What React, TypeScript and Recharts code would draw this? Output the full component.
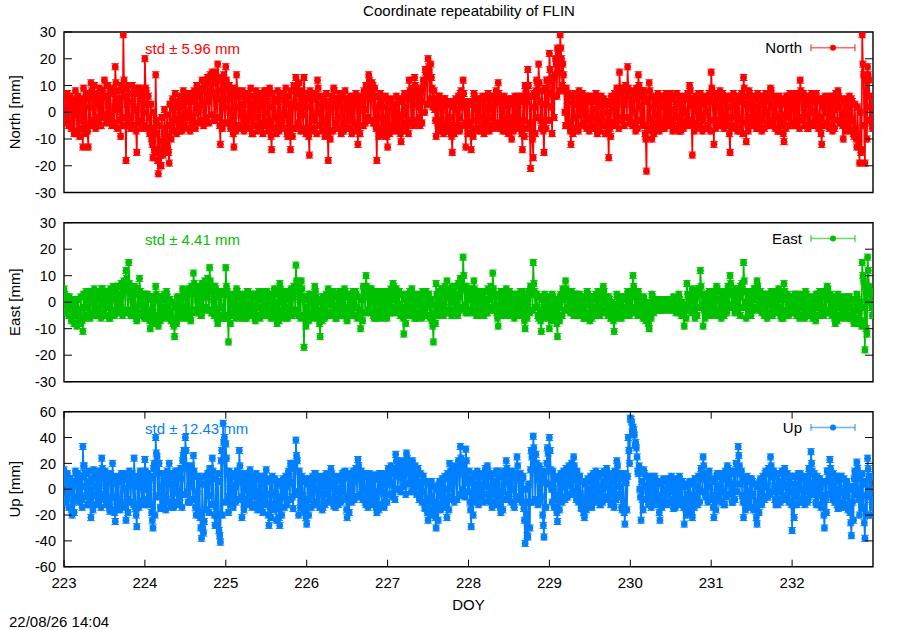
import React from 'react';
import { LineChart, Line, XAxis, YAxis, ReferenceArea } from 'recharts';

const FONT = '"Liberation Sans", Arial, Helvetica, sans-serif';

const START_DOY = 223;
const END_DOY = 233;
const SAMPLES_PER_DAY = 120; // four interleaved sample sets of 30 per day

const xTicks = [223, 224, 225, 226, 227, 228, 229, 230, 231, 232];
const neTicks = [-30, -20, -10, 0, 10, 20, 30];
const upTicks = [-60, -40, -20, 0, 20, 40, 60];

const title = 'Coordinate repeatability of FLIN';
const dateStamp = '22/08/26 14:04';

// ---------- North [mm] ----------
const northA = [
  6, -2, 4, -6, 1, -8, 3, -13, 5, -13, 11, -3, 6, -5, 8, 12, -1, 7, -4, 17, 4, -9, 29, -18, 10, -6, 7, -15, 9, -4,
  20, 3, -6, -17, 14, -23, -20, -12, -9, -19, -4, 2, -7, 5, -3, 6, -2, 4, -5, 7, 1, 8, -4, 12, 6, 15, -3, 18, -12, 10,
  17, 5, -3, -13, 14, 2, -6, 7, -4, 3, -8, 5, -2, 6, -5, 8, -3, -14, 4, -6, 7, -2, 5, -9, -14, 3, 13, -4, 6, 13,
  2, -16, 6, -3, 12, -5, 4, -8, -18, 3, 9, -4, 5, -7, 2, -6, 4, -3, 6, -12, 3, -5, 10, 14, 8, -4, -18, 6, -2, -9,
  -13, 4, -6, 3, -2, -11, 5, -4, 12, -3, 13, 6, -5, 9, 16, 20, 18, 4, -9, 6, -3, 5, -7, -2, -15, 4, -5, 7, 12, -13,
  3, -14, 7, -3, 5, -6, 2, -4, 6, -2, 4, 11, -5, 3, -7, 5, -10, 4, -3, 6, -14, 10, 16, -21, -17, 8, 18, -6, -15, 12,
  22, -8, 14, 24, 29, 18, -5, 7, -12, 3, -6, 8, 2, -5, 6, -3, 4, -6, 5, -2, 3, -8, -17, 6, -4, 9, 15, -3, 5, 17,
  -4, 6, -7, 14, -3, 8, -22, 11, -10, 5, -4, 6, -6, 3, -2, 7, -5, 4, -7, 2, 5, -3, 10, -16, 3, -5, 7, -2, 4, -6,
  15, -12, 5, -4, 7, -3, 2, -15, 6, -5, 4, -7, 13, -11, 8, -3, 5, -6, 3, -2, 6, -5, 9, -4, 5, -7, 3, -11, 6, -2,
  4, -5, 7, 12, -3, 6, -6, 4, -4, 7, -2, -12, 5, -5, 3, -7, 6, 8, -4, -10, 3, -6, 5, -9, -13, -19, 29, -19, 17, 2,
];
const northB = [
  2, -4, 3, -1, 5, -3, 0, 4, -6, 2, 7, -2, 3, 5, -1, 6, 2, -3, 8, 1, 5, -2, 6, 3, -5, 4, 1, -3, 5, 0,
  8, -2, -10, -14, -8, -16, -11, -6, -13, -5, 1, -3, 3, -4, 2, -1, 4, -3, 5, 0, 6, 3, 9, 4, 11, 7, 13, 5, 8, 2,
  9, 0, 6, -5, 8, -1, 3, -3, 5, -2, 1, 4, -4, 3, 0, 5, -5, 2, -2, 4, -3, 6, -1, 3, -6, 8, 2, 7, -1, 4,
  -6, 5, -2, 7, 0, 3, -4, 2, -7, 5, 3, -2, 4, -3, 5, -1, 2, -4, 3, -5, 4, 1, 7, 5, 10, 2, -6, 3, -4, 2,
  -5, 1, -3, 0, -6, -1, 2, -5, 6, 3, 8, 2, 4, 11, 13, 15, 9, 1, -4, 2, -6, 3, -3, -8, -5, 1, -2, 4, 2, -5,
  -4, -7, 2, 0, -2, 3, -3, 1, 2, -5, 6, 5, -1, -3, 2, -4, -2, 0, 3, -6, -3, 4, 6, -8, 2, 11, 4, -4, 3, 7,
  12, 6, 18, 15, 20, 8, 2, -4, 4, -2, 3, -1, 5, 0, -3, 4, -2, 1, -4, 3, -5, 0, -6, 2, 4, -2, 7, 3, 9, 6,
  3, 0, 5, 2, 6, -8, 4, -3, 2, -1, 3, -4, 2, 0, 4, -3, 1, -2, 3, -4, 0, 5, 3, -4, 1, 4, -3, 3, 0, 5,
  4, -3, 2, 1, -2, 4, -5, -2, 3, 0, -3, 5, 3, -2, 2, 4, -1, 2, -3, 3, 0, 4, 2, -1, -2, 3, -4, -1, 2, 4,
  1, 3, -2, 5, 2, -1, 3, 0, 4, -3, -5, 2, 0, 3, -2, 1, 4, 2, 0, -4, -1, 2, -3, -6, -9, -15, 14, 8, 12, -4,
];
const northC = [
  5, 7, 6, 4, 8, 6, 5, 9, 7, 6, 8, 10, 7, 9, 8, 6, 10, 8, 9, 11, 8, 10, 12, 9, 7, 10, 8, 9, 6, 8,
  9, 6, 3, 0, -3, -5, -2, 1, -1, 3, 5, 7, 4, 6, 8, 5, 7, 6, 8, 10, 9, 12, 10, 13, 14, 11, 15, 13, 12, 14,
  12, 10, 8, 9, 7, 6, 8, 5, 7, 9, 6, 8, 7, 5, 8, 6, 9, 7, 5, 8, 6, 7, 9, 6, 8, 10, 9, 11, 8, 7,
  6, 8, 5, 7, 9, 6, 5, 7, 4, 6, 8, 5, 7, 6, 8, 5, 6, 4, 7, 5, 6, 8, 10, 12, 11, 9, 6, 7, 5, 6,
  4, 5, 3, 6, 4, 5, 7, 6, 8, 9, 10, 8, 9, 12, 15, 17, 13, 8, 5, 6, 4, 5, 3, 4, 2, 5, 6, 8, 7, 4,
  3, 4, 6, 5, 4, 6, 5, 7, 6, 5, 8, 7, 5, 6, 4, 5, 3, 6, 5, 4, 6, 8, 10, 6, 7, 12, 11, 8, 9, 12,
  16, 13, 20, 22, 24, 14, 9, 6, 5, 7, 6, 5, 7, 6, 4, 6, 5, 7, 4, 6, 5, 4, 3, 5, 7, 6, 9, 8, 10, 9,
  7, 8, 9, 10, 8, 7, 5, 8, 6, 5, 7, 6, 5, 7, 6, 5, 6, 7, 5, 6, 5, 7, 8, 5, 6, 7, 5, 6, 5, 7,
  9, 7, 6, 8, 7, 6, 5, 6, 7, 6, 5, 7, 9, 6, 7, 6, 5, 7, 6, 5, 7, 6, 8, 6, 5, 6, 5, 4, 6, 7,
  6, 7, 6, 8, 7, 6, 5, 7, 6, 5, 4, 5, 6, 5, 6, 5, 7, 6, 5, 4, 5, 6, 4, 3, 2, 0, 18, 12, 14, 6,
];
const northD = [
  -3, -5, -6, -8, -7, -9, -6, -8, -7, -5, -4, -6, -3, -5, -2, -4, -3, -5, -4, -6, -3, -5, -2, -4, -6, -5, -7, -4, -6, -5,
  -6, -8, -12, -15, -18, -20, -16, -14, -15, -10, -7, -8, -6, -7, -5, -6, -7, -5, -6, -4, -3, -5, -2, -4, -1, -3, -2, -5, -6, -4,
  -4, -6, -8, -7, -5, -6, -7, -5, -6, -8, -5, -7, -6, -8, -5, -7, -9, -6, -8, -7, -5, -6, -8, -7, -9, -6, -5, -7, -6, -8,
  -9, -7, -6, -8, -5, -7, -9, -6, -10, -7, -5, -6, -8, -7, -5, -6, -8, -7, -6, -8, -5, -4, -2, -3, -4, -6, -9, -7, -8, -9,
  -8, -6, -7, -5, -8, -7, -6, -8, -4, -5, -3, -2, -4, 0, 3, 5, 2, -3, -7, -6, -8, -5, -7, -9, -8, -6, -7, -5, -4, -8,
  -8, -9, -6, -7, -5, -8, -6, -7, -5, -6, -4, -6, -7, -5, -8, -6, -7, -5, -6, -8, -9, -6, -4, -10, -8, -2, -3, -7, -6, -3,
  2, -2, 6, 8, 10, 0, -5, -7, -8, -6, -7, -5, -4, -6, -7, -5, -6, -8, -7, -5, -8, -6, -9, -5, -4, -6, -3, -5, -2, -4,
  -5, -4, -6, -3, -5, -10, -6, -7, -8, -6, -7, -5, -6, -4, -5, -7, -6, -5, -7, -6, -4, -5, -3, -7, -6, -5, -7, -6, -5, -7,
  -3, -6, -5, -4, -6, -5, -8, -6, -5, -7, -6, -8, -4, -7, -5, -4, -6, -5, -7, -6, -4, -5, -3, -6, -7, -5, -8, -6, -5, -4,
  -5, -4, -6, -3, -5, -6, -4, -5, -3, -6, -8, -5, -4, -6, -5, -6, -3, -4, -5, -7, -6, -7, -8, -10, -12, -14, -5, -10, -3, -6,
];

// ---------- East [mm] ----------
const eastA = [
  5, -3, 2, -6, 1, -4, -8, -11, 3, -2, 4, -5, 2, -3, 5, -1, 3, -6, 2, -4, 6, -2, 4, 12, 15, -3, 5, -7, 9, -1,
  -4, 3, -10, 2, 6, -9, 1, -5, 4, -3, -6, -13, 2, -4, 5, -2, 3, -7, 11, -3, 4, -5, 7, 2, 13, -4, 6, -8, 3, -6,
  13, -15, 2, -4, 5, -3, 1, -6, 4, -2, 3, -7, 2, -5, 4, -1, 3, -4, 5, -8, 7, -3, 4, -6, 3, 2, 14, -5, 8, -17,
  -2, 3, -5, 6, -3, -13, 2, -4, 5, -1, 4, -6, 2, -3, 5, -7, 3, -2, 4, -5, -10, 6, 10, -3, 5, -6, 2, -4, 4, -2,
  3, -4, 7, -2, 4, -5, -12, 2, -3, 5, -6, 1, -4, 4, -2, 3, -5, -15, 7, -3, 5, -2, 8, -4, 6, 3, -5, 9, 17, -4,
  5, -3, 8, -5, 2, -2, 4, -4, 3, 11, -1, -9, 4, -3, 5, -2, 3, -6, 2, -4, 4, -10, -2, 6, 15, 3, -6, -11, 2, -5,
  -10, 3, -4, -13, 2, 5, 8, -2, 4, -5, 3, -3, 1, -6, 4, -7, 2, -2, 4, -4, 6, -3, 2, -6, -11, 3, -4, 2, -5, 4,
  -2, 10, -3, 4, -5, 2, -4, -10, 3, -2, 1, -3, 0, -1, 1, -2, 2, -4, 3, -5, -9, 7, -3, 5, -6, 4, 12, -9, 3, -2,
  4, -3, 6, -5, 2, -4, 3, 10, -2, 5, -3, 6, 15, -6, 4, -2, 5, 8, -3, 2, -5, 3, -4, 4, -2, 5, -6, 7, -3, 1,
  -2, 3, -4, 2, -5, 4, -3, 1, -6, 3, -2, 4, -4, 6, -3, 2, -8, 3, -5, 1, -4, 2, -6, -8, 3, -3, 15, -18, 17, 3,
];
const eastB = [
  0, -2, -4, -1, -5, -3, -6, -2, 1, -4, 0, 2, -3, 1, 2, -2, 0, -3, 4, 1, -1, 3, 6, 5, 2, 1, -2, 3, 2, -3,
  1, -5, -3, -6, 2, -4, -2, 1, -1, -4, -8, -2, -1, 1, -3, 2, -4, 3, 4, 1, -2, 2, 3, 6, 4, 1, -3, 2, -2, 3,
  4, -5, -1, 1, -2, 2, -3, 0, -1, 2, -4, -1, -2, 1, -3, 2, -1, 2, -3, 0, 2, -1, -2, 1, -3, 5, 4, 1, 2, -6,
  -4, 1, -1, 2, -6, -3, -1, 1, 0, 2, -3, -1, 0, 1, -3, -2, 1, 0, -2, -3, -4, 2, 3, 0, 1, -3, 0, -1, 1, -3,
  0, 2, 1, 3, -1, -2, -4, -1, 1, -2, -1, 0, -2, 1, 0, -1, -7, -4, 2, 1, -1, 3, 2, 0, 3, -1, 2, 5, 6, 2,
  1, 2, 0, -1, 3, 0, -2, 1, 5, 2, -4, -2, 0, 1, -1, 2, -1, -2, 0, 1, -4, -1, 3, 5, 4, -2, -4, -3, 0, -2,
  -3, -1, -6, -2, 1, 3, 2, 0, 1, -1, -2, 0, -3, -1, 0, -2, -3, 1, -1, 0, 2, -1, -3, -4, -2, -1, 0, -2, 1, 0,
  2, 4, 0, -1, -2, -3, -5, -2, 0, -1, -1, 0, -1, 0, -1, 0, -1, 0, -2, -3, -2, 2, 0, 1, -2, 5, 3, -3, 0, 1,
  0, 2, 1, -1, -2, 0, 5, 3, 1, 0, 2, 7, 4, 0, -1, 1, 3, 2, -1, -2, 0, -1, 1, 0, 2, -2, 1, 2, -1, -2,
  0, -1, -2, -1, 0, -2, -1, -3, -1, 0, 1, -2, 2, 1, -1, -3, -1, -2, 0, -3, -1, -2, -4, -3, -1, -7, 8, -10, 6, -2,
];
const eastC = [
  3, 2, 1, 0, -1, 1, 2, 3, 4, 3, 4, 5, 3, 4, 5, 3, 4, 5, 6, 5, 6, 7, 8, 9, 7, 5, 6, 5, 4, 3,
  3, 2, 1, 2, 3, 1, 2, 3, 2, 1, 0, -1, 1, 2, 3, 4, 5, 6, 7, 5, 6, 7, 8, 9, 8, 6, 5, 4, 3, 4,
  6, 3, 2, 3, 4, 3, 2, 3, 4, 3, 2, 3, 4, 2, 3, 4, 3, 2, 3, 4, 5, 4, 3, 4, 5, 6, 8, 6, 5, 2,
  1, 3, 2, 4, 1, 0, 2, 3, 4, 3, 2, 3, 4, 3, 4, 2, 3, 4, 3, 2, 1, 4, 6, 5, 4, 3, 4, 3, 4, 3,
  4, 5, 6, 5, 4, 3, 1, 3, 4, 3, 2, 3, 2, 3, 4, 3, 1, -1, 3, 4, 5, 6, 5, 4, 5, 6, 7, 8, 10, 6,
  5, 4, 5, 3, 4, 3, 4, 5, 6, 5, 3, 2, 3, 4, 3, 4, 3, 2, 3, 4, 2, 1, 4, 6, 7, 3, 2, 1, 3, 2,
  0, 2, 1, 0, 3, 4, 5, 3, 4, 3, 2, 3, 2, 1, 3, 2, 1, 3, 2, 3, 4, 2, 1, 0, -1, 2, 1, 2, 1, 3,
  4, 6, 3, 2, 1, 0, -1, 0, 2, 1, 1, 0, 1, 0, 1, 0, 1, 0, 1, 0, -1, 3, 2, 3, 2, 5, 6, 2, 3, 4,
  4, 3, 5, 4, 3, 4, 6, 7, 4, 5, 4, 6, 8, 4, 3, 4, 5, 6, 4, 3, 2, 3, 4, 3, 4, 3, 2, 4, 3, 2,
  2, 3, 2, 3, 2, 3, 2, 1, 2, 3, 4, 3, 4, 5, 3, 2, 1, 2, 1, 2, 1, 2, 1, 0, 1, 0, 10, 6, 12, 4,
];
const eastD = [
  -4, -5, -7, -8, -9, -8, -7, -6, -5, -6, -5, -4, -5, -6, -4, -5, -6, -4, -5, -3, -4, -5, -3, -4, -5, -4, -6, -5, -4, -6,
  -6, -7, -8, -7, -5, -7, -6, -5, -6, -7, -9, -8, -6, -5, -6, -5, -6, -4, -3, -4, -5, -3, -2, -3, -4, -5, -6, -5, -6, -5,
  -6, -8, -5, -6, -5, -6, -5, -6, -4, -5, -6, -5, -6, -5, -4, -5, -6, -5, -6, -7, -5, -6, -5, -4, -5, -3, -4, -6, -5, -9,
  -7, -5, -6, -4, -8, -7, -6, -5, -4, -5, -6, -5, -4, -5, -6, -5, -4, -5, -6, -5, -7, -4, -3, -4, -5, -6, -5, -6, -5, -6,
  -4, -3, -4, -3, -5, -6, -8, -5, -4, -5, -6, -5, -6, -4, -5, -6, -9, -8, -5, -4, -5, -3, -4, -5, -3, -4, -3, -2, -1, -4,
  -3, -4, -3, -5, -4, -5, -4, -3, -2, -3, -6, -5, -4, -5, -4, -5, -4, -5, -4, -5, -7, -6, -4, -3, -2, -5, -7, -6, -5, -6,
  -7, -6, -8, -7, -5, -3, -2, -4, -3, -5, -4, -5, -6, -5, -4, -6, -5, -4, -5, -4, -3, -5, -6, -7, -6, -5, -6, -5, -4, -5,
  -4, -2, -5, -4, -6, -7, -8, -6, -4, -3, -3, -2, -3, -2, -3, -2, -3, -2, -4, -5, -6, -3, -4, -3, -5, -2, -1, -6, -4, -5,
  -4, -5, -3, -6, -5, -4, -2, -1, -4, -3, -5, -2, 0, -4, -5, -3, -2, -1, -4, -5, -6, -4, -5, -3, -4, -5, -6, -4, -5, -4,
  -4, -5, -6, -5, -6, -4, -5, -6, -7, -5, -4, -5, -4, -3, -5, -6, -7, -5, -6, -5, -6, -5, -7, -8, -6, -9, -2, -12, 0, -5,
];

// ---------- Up [mm] ----------
const upA = [
  15, -7, 8, -20, 5, -6, 10, 33, 2, -12, -22, 15, -5, 9, 24, -8, 4, -17, 20, -25, 6, -10, 12, -24, 3, 10, 24, -29, 5, -9,
  23, -12, 8, -30, 40, 12, -15, 6, -8, 20, -14, 5, 14, -6, 22, 40, -10, 6, 26, -20, 10, -38, -25, 8, 15, 24, -28, 12, -41, 51,
  35, -18, 10, -8, 5, 30, -22, 6, -10, 15, -5, 8, -14, 4, -9, 15, -28, 7, -12, 5, -28, 3, -6, 10, 20, -15, 38, -20, 6, -10,
  -27, 8, -5, 12, -10, 6, -14, 10, -4, 16, -13, 7, -8, 5, 13, -22, 9, -6, 14, 23, -5, 10, -12, 6, -8, 11, -18, 12, 4, -10,
  6, 14, -4, 27, 10, 18, 2, 28, 12, 20, 4, 16, -6, 10, -15, -24, 5, -10, -30, 3, -12, 8, -22, 20, -8, 6, 12, 33, -5, 31,
  5, -29, 10, -8, 12, -5, 8, 18, -10, 6, -12, 14, -18, 4, 22, -8, 10, -14, 25, -6, 8, -42, -37, 15, 41, 27, -10, 12, -37, 20,
  40, -10, 8, -25, 5, 12, -6, 16, 3, 25, -8, 10, -15, -22, 6, -10, 8, -5, 12, -12, 4, 12, -8, 6, -14, 22, 2, -16, -27, 10,
  55, 48, 36, 12, -24, 15, -8, 5, -12, 10, -5, -24, 6, -10, 4, 8, -15, 3, -8, 6, -27, -10, 5, -22, 8, -12, 10, 25, -6, 12,
  -8, -22, 10, -5, 8, -12, 18, 4, -10, 14, 33, 12, -22, 6, -10, 8, -15, -27, 5, -8, 12, -6, 25, 10, -12, 6, -8, 14, -5, 8,
  -32, 10, -6, 12, -10, 6, -8, 29, 5, -12, 8, -5, -30, 14, 23, -8, 6, -15, 10, -10, 5, -12, -36, 8, 21, -20, 12, -38, 24, -20,
];
const upB = [
  5, -3, 0, -10, 12, 3, -8, 18, -5, 6, -12, 2, 8, -4, 10, 3, -10, 6, -6, 4, -12, 8, 0, -8, 12, 4, -15, 2, 10, 0,
  6, 2, -18, 20, 25, -5, 2, -10, 8, 4, -3, 10, -2, 8, 30, 18, 2, 12, -8, -2, -22, -30, 4, -5, 10, -12, -20, -32, 30, 40,
  12, 0, -5, 2, 14, 8, -8, 0, 4, -2, 3, -6, -2, -4, 6, -12, -4, -3, -15, -10, -6, 4, 2, 12, 5, 18, 22, -2, -5, -18,
  -8, -2, 4, 0, -3, -4, 2, 3, 6, 2, -2, 0, -2, 8, -5, -6, 0, 6, 10, 8, 2, 0, -2, -4, 3, -5, -2, 2, -3, 4,
  10, 4, 12, 16, 18, 8, 14, 20, 6, 10, 12, 2, 5, -2, -8, -10, -6, -18, -12, -4, -2, -8, 0, 6, 10, 14, 20, 18, 12, 8,
  -10, -4, 2, 4, -2, 3, 12, 2, -4, 0, 5, -6, -2, 10, 6, 2, 0, 8, 10, 2, -15, -20, -10, 25, 20, 8, 15, -20, 5, 28,
  15, 0, -8, -5, 2, 3, 8, 10, 12, 8, 2, -4, -10, -8, -2, 0, 2, 4, -2, 0, 6, 2, -4, 0, 8, 12, -6, -10, 5, 30,
  52, 42, 25, 0, -8, 2, 0, -4, 2, -2, -12, -6, 0, -4, -2, 2, -6, -2, 0, -8, -14, -4, -10, -5, 2, 0, 12, 8, 4, 2,
  -5, -10, 2, 0, -2, 8, 10, -2, 4, 20, 18, -5, -8, -2, -5, -4, -16, -10, -2, 4, 2, 12, 14, 2, -2, 0, 4, 2, 3, -2,
  -12, -2, 4, 0, -2, 0, 12, 14, -4, -2, 0, -12, -8, 8, 4, -2, -4, 0, -2, -4, -5, -18, -10, 12, 0, -6, -15, -5, 10, -8,
];
const upC = [
  10, 12, 8, 6, 14, 12, 10, 18, 12, 14, 8, 10, 14, 12, 16, 14, 10, 12, 8, 10, 6, 12, 10, 8, 14, 12, 6, 10, 14, 12,
  14, 12, 10, 16, 28, 20, 12, 10, 14, 12, 10, 14, 12, 16, 26, 30, 16, 18, 14, 10, 8, 4, 10, 12, 16, 14, 8, 6, 22, 36,
  24, 14, 12, 10, 14, 18, 12, 10, 12, 10, 8, 12, 10, 8, 10, 8, 6, 10, 8, 6, 4, 8, 10, 14, 16, 20, 26, 14, 10, 8,
  4, 8, 10, 12, 8, 10, 8, 12, 10, 12, 8, 10, 8, 12, 14, 10, 12, 14, 16, 18, 14, 12, 10, 12, 8, 10, 8, 12, 10, 12,
  16, 18, 16, 22, 20, 22, 18, 24, 20, 22, 18, 16, 12, 10, 6, 4, 6, 2, 0, 6, 8, 10, 12, 14, 16, 18, 22, 24, 20, 22,
  14, 8, 12, 14, 12, 10, 16, 14, 10, 12, 14, 12, 10, 14, 16, 12, 14, 12, 18, 12, 10, 0, 4, 30, 32, 20, 18, 8, 14, 32,
  30, 14, 10, 8, 12, 14, 16, 18, 20, 18, 14, 10, 6, 4, 8, 10, 12, 14, 10, 12, 14, 16, 10, 12, 14, 18, 12, 8, 12, 40,
  54, 46, 32, 18, 6, 12, 10, 8, 10, 8, 4, 6, 8, 6, 8, 10, 6, 8, 10, 6, 2, 4, 6, 4, 8, 10, 16, 18, 12, 14,
  8, 6, 12, 10, 12, 14, 16, 12, 14, 20, 26, 14, 8, 10, 8, 6, 4, 2, 8, 10, 14, 16, 18, 14, 10, 12, 14, 16, 12, 10,
  4, 10, 12, 10, 8, 10, 16, 20, 12, 10, 8, 4, 6, 14, 16, 12, 10, 8, 10, 8, 6, 0, 2, 14, 16, 8, 4, 6, 16, 10,
];
const upD = [
  -10, -14, -16, -18, -8, -10, -14, -6, -12, -10, -16, -12, -10, -14, -8, -12, -14, -16, -18, -14, -16, -12, -14, -18, -10, -12, -20, -14, -10, -12,
  -8, -12, -24, -20, -6, -14, -12, -16, -10, -12, -14, -10, -12, -14, -4, -2, -10, -8, -14, -18, -30, -34, -16, -18, -12, -20, -28, -36, -20, -10,
  -6, -12, -14, -10, -8, -6, -16, -12, -10, -14, -12, -16, -14, -18, -12, -20, -22, -16, -24, -22, -20, -14, -12, -8, -6, -4, -2, -14, -16, -22,
  -20, -14, -10, -12, -14, -16, -12, -10, -8, -10, -14, -12, -10, -8, -16, -18, -10, -8, -6, -4, -8, -10, -14, -12, -10, -14, -16, -12, -14, -10,
  -4, -6, -8, 0, -2, 2, -4, 4, -2, 0, -4, -8, -10, -14, -18, -20, -16, -22, -24, -16, -14, -12, -16, -6, -10, -8, -4, 0, -6, -2,
  -16, -20, -10, -12, -8, -10, -4, -8, -14, -10, -12, -14, -16, -8, -4, -10, -12, -8, -6, -10, -24, -36, -30, -10, -8, -12, -6, -28, -14, 4,
  0, -14, -18, -16, -10, -8, -6, -4, -2, -4, -10, -14, -18, -16, -12, -14, -10, -8, -12, -10, -6, -8, -12, -10, -8, -4, -14, -18, -16, 20,
  44, 34, 14, -6, -16, -8, -12, -14, -10, -12, -18, -14, -10, -12, -10, -8, -14, -12, -10, -14, -20, -16, -18, -14, -8, -10, -2, -4, -10, -8,
  -14, -16, -8, -10, -12, -6, -4, -10, -8, -2, 4, -10, -16, -12, -14, -16, -22, -18, -12, -8, -6, -4, -2, -8, -12, -10, -8, -6, -10, -12,
  -22, -12, -8, -10, -12, -10, -4, 0, -10, -12, -14, -20, -18, -4, -2, -10, -12, -14, -12, -14, -16, -26, -24, -4, -8, -14, -26, -20, 0, -14,
];

const seriesNames = ['North', 'East', 'Up'];
const axisLabels = ['North [mm]', 'East [mm]', 'Up [mm]'];
const stdValues = ['5.96', '4.41', '12.43'];
const colors = ['#ff0000', '#00c000', '#0080ff'];

// interleave the four sample sets in time order: A, C, B, D
const toRows = (sets: number[][]) => {
  const [a, b, c, d] = sets;
  const order = [a, c, b, d];
  const rows: { doy: number; v: number }[] = [];
  a.forEach((_, i) => {
    order.forEach((arr, k) => {
      rows.push({ doy: START_DOY + (4 * i + k) / SAMPLES_PER_DAY, v: arr[i] });
    });
  });
  return rows;
};

const LeftTick = (p: any) => (
  <g>
    <line x1={p.x} x2={p.x + 8} y1={p.y} y2={p.y} stroke="#000" strokeWidth={1} />
    <text x={p.x - 8} y={p.y} dy="0.36em" textAnchor="end" fontSize={14.5} fontFamily={FONT} fill="#000">
      {p.payload.value}
    </text>
  </g>
);

const RightTick = (p: any) => (
  <g>
    <line x1={p.x - 8} x2={p.x} y1={p.y} y2={p.y} stroke="#000" strokeWidth={1} />
  </g>
);

const makeXTick = (plotH: number) => (p: any) => (
  <g>
    <line x1={p.x} x2={p.x} y1={p.y} y2={p.y - 7} stroke="#000" strokeWidth={1} />
    <line x1={p.x} x2={p.x} y1={p.y - plotH} y2={p.y - plotH + 7} stroke="#000" strokeWidth={1} />
    <text x={p.x} y={p.y + 21} textAnchor="middle" fontSize={15} fontFamily={FONT} fill="#000">
      {p.payload.value}
    </text>
  </g>
);

const makeDot = (color: string) => (p: any) => {
  const { cx, cy, index } = p;
  if (cx == null || cy == null) return <g key={`m${index}`} />;
  return (
    <g key={`m${index}`}>
      <circle cx={cx} cy={cy} r={3.4} fill={color} />
      <line x1={cx - 3.8} x2={cx + 3.8} y1={cy - 3} y2={cy - 3} stroke={color} strokeWidth={1} />
      <line x1={cx - 3.8} x2={cx + 3.8} y1={cy + 3} y2={cy + 3} stroke={color} strokeWidth={1} />
    </g>
  );
};

type PanelProps = {
  top: number;
  height: number;
  mTop: number;
  mBottom: number;
  plotH: number;
  sets: number[][];
  color: string;
  domain: [number, number];
  ticks: number[];
  withX: boolean;
};

function Panel({ top, height, mTop, mBottom, plotH, sets, color, domain, ticks, withX }: PanelProps) {
  const rows = toRows(sets);
  return (
    <div style={{ position: 'absolute', left: 0, top }}>
      <LineChart width={900} height={height} data={rows} margin={{ top: mTop, right: 0, bottom: mBottom, left: 0 }}>
        <XAxis
          dataKey="doy"
          type="number"
          domain={[START_DOY, END_DOY]}
          ticks={xTicks}
          interval={0}
          allowDataOverflow
          hide={!withX}
          height={withX ? 30 : 0}
          tickSize={0}
          tickMargin={0}
          axisLine={false}
          tickLine={false}
          tick={makeXTick(plotH)}
        />
        <YAxis
          yAxisId="l"
          type="number"
          domain={domain}
          ticks={ticks}
          interval={0}
          allowDataOverflow
          width={64}
          tickSize={0}
          tickMargin={0}
          axisLine={false}
          tickLine={false}
          tick={LeftTick}
        />
        <YAxis
          yAxisId="r"
          orientation="right"
          type="number"
          domain={domain}
          ticks={ticks.slice(1, -1)}
          interval={0}
          allowDataOverflow
          width={27}
          tickSize={0}
          tickMargin={0}
          axisLine={false}
          tickLine={false}
          tick={RightTick}
        />
        <Line
          yAxisId="l"
          type="linear"
          dataKey="v"
          stroke={color}
          strokeWidth={1.7}
          dot={makeDot(color)}
          activeDot={false}
          isAnimationActive={false}
        />
        <ReferenceArea
          yAxisId="l"
          x1={START_DOY}
          x2={END_DOY}
          y1={domain[0]}
          y2={domain[1]}
          fill="none"
          fillOpacity={0}
          stroke="#000"
          strokeWidth={1.4}
          ifOverflow="visible"
        />
      </LineChart>
    </div>
  );
}

const panelTops = [32, 222.7, 411.7];
const panelHeights = [160.5, 159, 155];

function LegendEntry({ name, color, baseline }: { name: string; color: string; baseline: number }) {
  const y = baseline - 5.3;
  return (
    <g>
      <text x={802} y={baseline} textAnchor="end" fontSize={15} fontFamily={FONT} fill="#000">{name}</text>
      <line x1={811} x2={855} y1={y} y2={y} stroke={color} strokeOpacity={0.6} strokeWidth={1.5} />
      <line x1={811} x2={811} y1={y - 3.5} y2={y + 3.5} stroke={color} strokeOpacity={0.6} strokeWidth={1.5} />
      <line x1={855} x2={855} y1={y - 3.5} y2={y + 3.5} stroke={color} strokeOpacity={0.6} strokeWidth={1.5} />
      <circle cx={833} cy={y} r={3} fill={color} />
    </g>
  );
}

export default function App() {
  return (
    <div style={{ position: 'absolute', left: 0, top: 0, width: 900, height: 630, background: '#fff', overflow: 'hidden' }}>
      <Panel top={0} height={200} mTop={32} mBottom={7.5} plotH={160.5} sets={[northA, northB, northC, northD]} color={colors[0]} domain={[-30, 30]} ticks={neTicks} withX={false} />
      <Panel top={200} height={190} mTop={22.7} mBottom={8.3} plotH={159} sets={[eastA, eastB, eastC, eastD]} color={colors[1]} domain={[-30, 30]} ticks={neTicks} withX={false} />
      <Panel top={390} height={240} mTop={21.7} mBottom={33.3} plotH={155} sets={[upA, upB, upC, upD]} color={colors[2]} domain={[-60, 60]} ticks={upTicks} withX={true} />
      <svg width={900} height={630} style={{ position: 'absolute', left: 0, top: 0, pointerEvents: 'none' }}>
        <text x={469} y={16} textAnchor="middle" fontSize={15} fontFamily={FONT} fill="#000">{title}</text>
        {axisLabels.map((lab, k) => {
          const cy = panelTops[k] + panelHeights[k] / 2;
          return (
            <text key={lab} x={15} y={cy} dy="0.36em" textAnchor="middle" fontSize={15} fontFamily={FONT} fill="#000" transform={`rotate(-90 15 ${cy})`}>
              {lab}
            </text>
          );
        })}
        {stdValues.map((s, k) => (
          <text key={s} x={145} y={panelTops[k] + 22} fontSize={15} fontFamily={FONT} fill={colors[k]}>
            {`std \u00b1 ${s} mm`}
          </text>
        ))}
        {seriesNames.map((n, k) => (
          <LegendEntry key={n} name={n} color={colors[k]} baseline={panelTops[k] + 21} />
        ))}
        <text x={468.5} y={610} textAnchor="middle" fontSize={15} fontFamily={FONT} fill="#000">DOY</text>
        <text x={9} y={627} fontSize={15} fontFamily={FONT} fill="#000">{dateStamp}</text>
      </svg>
    </div>
  );
}
